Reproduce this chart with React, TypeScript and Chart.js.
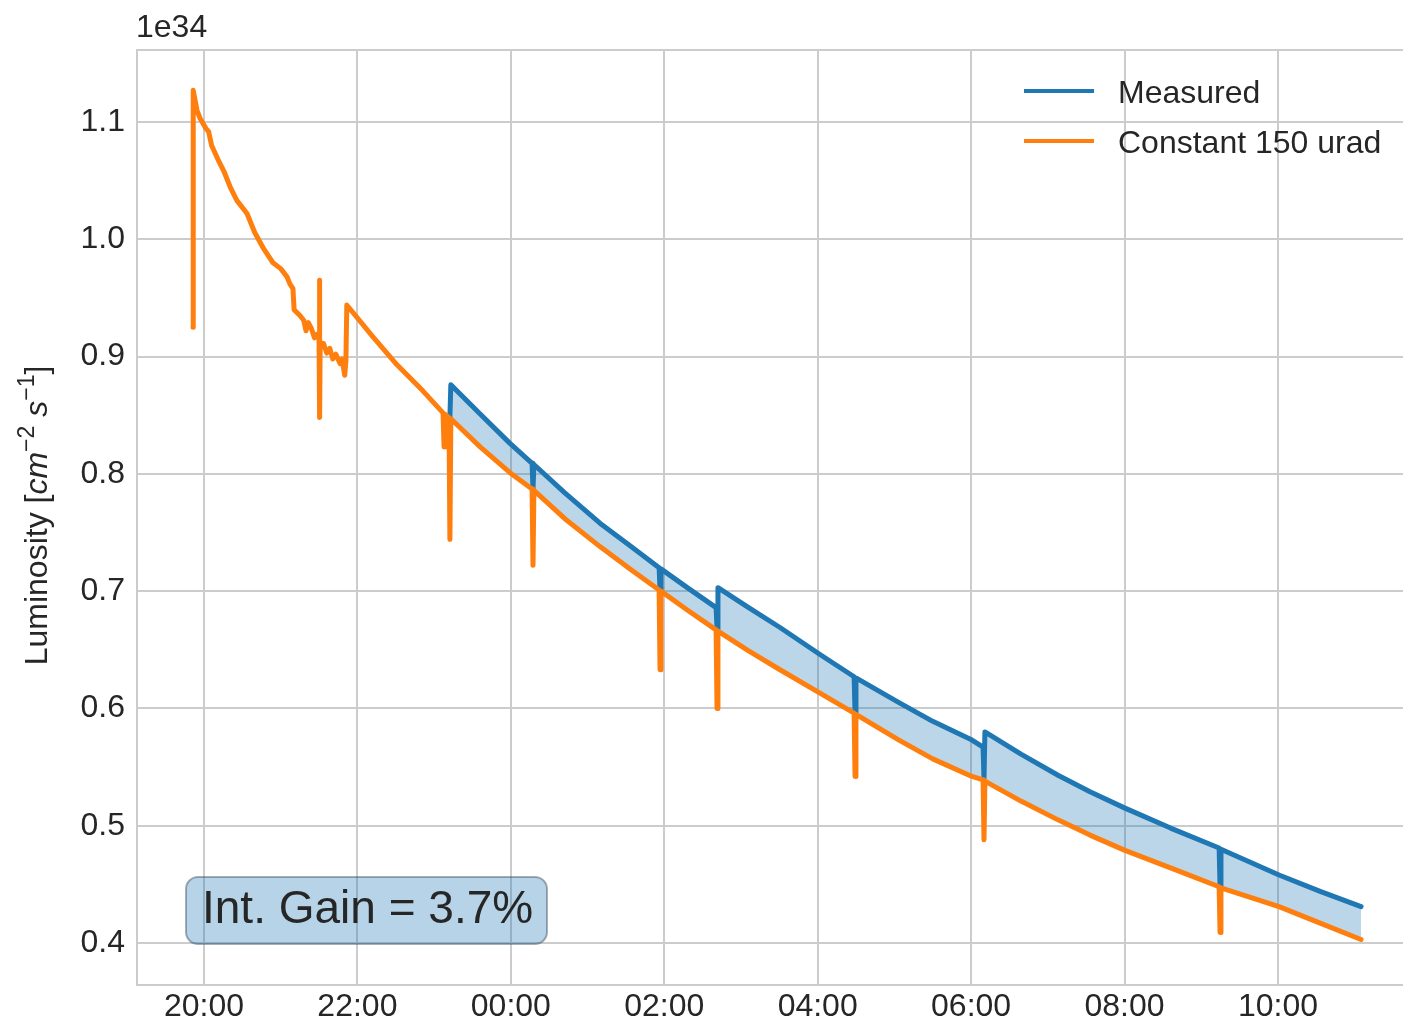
import React, { useEffect, useRef } from "react";
import { Chart, registerables } from "chart.js";

Chart.register(...registerables);

// ---- data (x in hours since midnight of the first day; values in 1e34 cm^-2 s^-1) ----
const timeHours = [
  19.857, 19.86, 19.909, 19.95, 20.03, 20.06, 20.1, 20.183, 20.26, 20.339,
  20.43, 20.561, 20.66, 20.769, 20.9, 21.0, 21.082, 21.12, 21.16, 21.175,
  21.251, 21.3, 21.33, 21.36, 21.4, 21.44, 21.473, 21.5, 21.505, 21.51,
  21.515, 21.56, 21.6, 21.64, 21.68, 21.72, 21.773, 21.8, 21.835, 21.85,
  21.862, 22.2, 22.516, 22.85, 23.116, 23.13, 23.14, 23.194, 23.206, 23.218,
  23.6, 23.989, 24.277, 24.289, 24.301, 24.7, 25.162, 25.55, 25.933, 25.945,
  25.957, 26.3, 26.676, 26.688, 26.7, 27.1, 27.509, 28.03, 28.475, 28.487,
  28.499, 29.06, 29.5, 30.012, 30.156, 30.168, 30.18, 30.65, 31.133, 31.55,
  32.006, 32.6, 33.233, 33.245, 33.257, 34.014, 34.55, 35.083,
];

const constant150 = [
  0.925, 1.127, 1.11, 1.103, 1.094, 1.092, 1.08, 1.068, 1.058, 1.045,
  1.033, 1.022, 1.006, 0.993, 0.98, 0.975, 0.968, 0.962, 0.958, 0.94,
  0.935, 0.931, 0.922, 0.929, 0.924, 0.916, 0.919, 0.915, 0.965, 0.848,
  0.912, 0.911, 0.903, 0.907, 0.898, 0.902, 0.894, 0.898, 0.884, 0.896,
  0.944, 0.917, 0.893, 0.871, 0.852, 0.823, 0.851, 0.848, 0.744, 0.847,
  0.823, 0.801, 0.787, 0.722, 0.786, 0.762, 0.738, 0.719, 0.701, 0.633,
  0.7, 0.684, 0.667, 0.6, 0.666, 0.649, 0.633, 0.613, 0.596, 0.542,
  0.595, 0.573, 0.557, 0.542, 0.539, 0.488, 0.538, 0.521, 0.505, 0.492,
  0.479, 0.464, 0.448, 0.409, 0.447, 0.431, 0.417, 0.403,
];

const measured = [
  null, null, null, null, null, null, null, null, null, null,
  null, null, null, null, null, null, null, null, null, null,
  null, null, null, null, null, null, null, null, null, null,
  null, null, null, null, null, null, null, null, null, null,
  null, null, null, null, null, null, null, 0.848, 0.849, 0.876,
  0.851, 0.826, 0.809, 0.787, 0.808, 0.784, 0.758, 0.739, 0.72, 0.701,
  0.719, 0.703, 0.686, 0.668, 0.703, 0.686, 0.669, 0.646, 0.627, 0.597,
  0.626, 0.605, 0.589, 0.573, 0.567, 0.54, 0.58, 0.561, 0.543, 0.529,
  0.515, 0.498, 0.481, 0.449, 0.48, 0.458, 0.444, 0.431,
];

const xTickHours = [20, 22, 24, 26, 28, 30, 32, 34];
const yTickValues = [0.4, 0.5, 0.6, 0.7, 0.8, 0.9, 1.0, 1.1];
const seriesLabels = ["Measured", "Constant 150 urad"];
const offsetText = "1e34";
const gainText = "Int. Gain = 3.7%";

const BLUE = "#1f77b4";
const ORANGE = "#ff7f0e";
const TEXT = "#262626";
const GRID = "#cccccc";
const FAMILY = '"Liberation Sans", Arial, sans-serif';

function fmtHour(h: number): string {
  const hh = ((Math.round(h) % 24) + 24) % 24;
  return String(hh).padStart(2, "0") + ":00";
}

const overlayPlugin = {
  id: "overlay",
  afterDraw(chart: any) {
    const ctx: CanvasRenderingContext2D = chart.ctx;
    const { left, top, right, bottom } = chart.chartArea;
    ctx.save();

    // top frame line
    ctx.strokeStyle = GRID;
    ctx.lineWidth = 2;
    ctx.beginPath();
    ctx.moveTo(left, top);
    ctx.lineTo(right, top);
    ctx.stroke();

    // offset text
    ctx.fillStyle = TEXT;
    ctx.font = `32px ${FAMILY}`;
    ctx.textAlign = "left";
    ctx.textBaseline = "alphabetic";
    ctx.fillText(offsetText, 136, 37);

    // legend
    const legendColors = [BLUE, ORANGE];
    const legendY = [91, 141];
    for (let i = 0; i < seriesLabels.length; i++) {
      ctx.strokeStyle = legendColors[i];
      ctx.lineWidth = 4;
      ctx.lineCap = "butt";
      ctx.beginPath();
      ctx.moveTo(1024, legendY[i]);
      ctx.lineTo(1094, legendY[i]);
      ctx.stroke();
      ctx.fillStyle = TEXT;
      ctx.font = `32px ${FAMILY}`;
      ctx.fillText(seriesLabels[i], 1118, legendY[i] + 11.5);
    }

    // annotation box
    const bx = 186, by = 877, bw = 361, bh = 67, r = 12;
    ctx.beginPath();
    ctx.moveTo(bx + r, by);
    ctx.lineTo(bx + bw - r, by);
    ctx.arcTo(bx + bw, by, bx + bw, by + r, r);
    ctx.lineTo(bx + bw, by + bh - r);
    ctx.arcTo(bx + bw, by + bh, bx + bw - r, by + bh, r);
    ctx.lineTo(bx + r, by + bh);
    ctx.arcTo(bx, by + bh, bx, by + bh - r, r);
    ctx.lineTo(bx, by + r);
    ctx.arcTo(bx, by, bx + r, by, r);
    ctx.closePath();
    ctx.fillStyle = "rgba(31,119,180,0.32)";
    ctx.fill();
    ctx.strokeStyle = "rgba(60,80,100,0.45)";
    ctx.lineWidth = 2;
    ctx.stroke();
    ctx.fillStyle = TEXT;
    ctx.font = `46px ${FAMILY}`;
    ctx.fillText(gainText, 202, 923);

    // y-axis title with superscripts
    const parts = [
      { t: "Luminosity [", f: `32px ${FAMILY}`, dy: 0 },
      { t: "cm", f: `italic 32px ${FAMILY}`, dy: 0 },
      { t: "\u22122", f: `23px ${FAMILY}`, dy: -13 },
      { t: " s", f: `italic 32px ${FAMILY}`, dy: 0 },
      { t: "\u22121", f: `23px ${FAMILY}`, dy: -13 },
      { t: "]", f: `32px ${FAMILY}`, dy: 0 },
    ];
    let total = 0;
    const widths: number[] = [];
    for (const p of parts) {
      ctx.font = p.f;
      const w = ctx.measureText(p.t).width;
      widths.push(w);
      total += w;
    }
    ctx.translate(47, (top + bottom) / 2 - 2);
    ctx.rotate(-Math.PI / 2);
    let x = -total / 2;
    for (let i = 0; i < parts.length; i++) {
      ctx.font = parts[i].f;
      ctx.fillText(parts[i].t, x, parts[i].dy);
      x += widths[i];
    }
    ctx.restore();
  },
};

export default function App() {
  const canvasRef = useRef<HTMLCanvasElement | null>(null);

  useEffect(() => {
    if (!canvasRef.current) return;
    const chart = new Chart(canvasRef.current, {
      type: "line",
      data: {
        datasets: [
          {
            label: seriesLabels[1],
            data: constant150.map((y, i) => ({ x: timeHours[i], y })),
            borderColor: ORANGE,
            backgroundColor: ORANGE,
            borderWidth: 5,
            pointRadius: 0,
            tension: 0,
            fill: false,
            borderJoinStyle: "round",
            borderCapStyle: "round",
          },
          {
            label: seriesLabels[0],
            data: measured.map((y, i) => ({ x: timeHours[i], y })),
            borderColor: BLUE,
            backgroundColor: "rgba(31,119,180,0.3)",
            borderWidth: 5,
            pointRadius: 0,
            tension: 0,
            fill: { target: 0 },
            spanGaps: false,
            borderJoinStyle: "round",
            borderCapStyle: "round",
          },
        ],
      } as any,
      options: {
        responsive: false,
        animation: false,
        devicePixelRatio: 1,
        events: [],
        layout: { padding: { top: 50, left: 0, right: 0, bottom: 0 } },
        plugins: {
          legend: { display: false },
          tooltip: { enabled: false },
          filler: { propagate: false },
        },
        scales: {
          x: {
            type: "linear",
            min: 19.127,
            max: 35.63,
            afterFit: (s: any) => {
              s.height = 40;
            },
            afterBuildTicks: (s: any) => {
              s.ticks = xTickHours.map((v) => ({ value: v }));
            },
            grid: { color: GRID, lineWidth: 2, drawTicks: false },
            border: { color: GRID, width: 2 },
            ticks: {
              font: { family: FAMILY, size: 32 },
              color: TEXT,
              padding: 3,
              maxRotation: 0,
              autoSkip: false,
              callback: (v: any) => fmtHour(Number(v)),
            },
          },
          y: {
            type: "linear",
            min: 0.3642,
            max: 1.1614,
            afterFit: (s: any) => {
              s.width = 137;
            },
            afterBuildTicks: (s: any) => {
              s.ticks = yTickValues.map((v) => ({ value: v }));
            },
            grid: { color: GRID, lineWidth: 2, drawTicks: false },
            border: { color: GRID, width: 2 },
            ticks: {
              font: { family: FAMILY, size: 32 },
              color: TEXT,
              padding: 12,
              autoSkip: false,
              callback: (v: any) => Number(v).toFixed(1),
            },
          },
        },
      } as any,
      plugins: [overlayPlugin],
    });
    return () => chart.destroy();
  }, []);

  return (
    <div style={{ position: "absolute", left: 0, top: 0, width: 1403, height: 1025, background: "#fff" }}>
      <canvas ref={canvasRef} width={1403} height={1025} style={{ display: "block" }} />
    </div>
  );
}
